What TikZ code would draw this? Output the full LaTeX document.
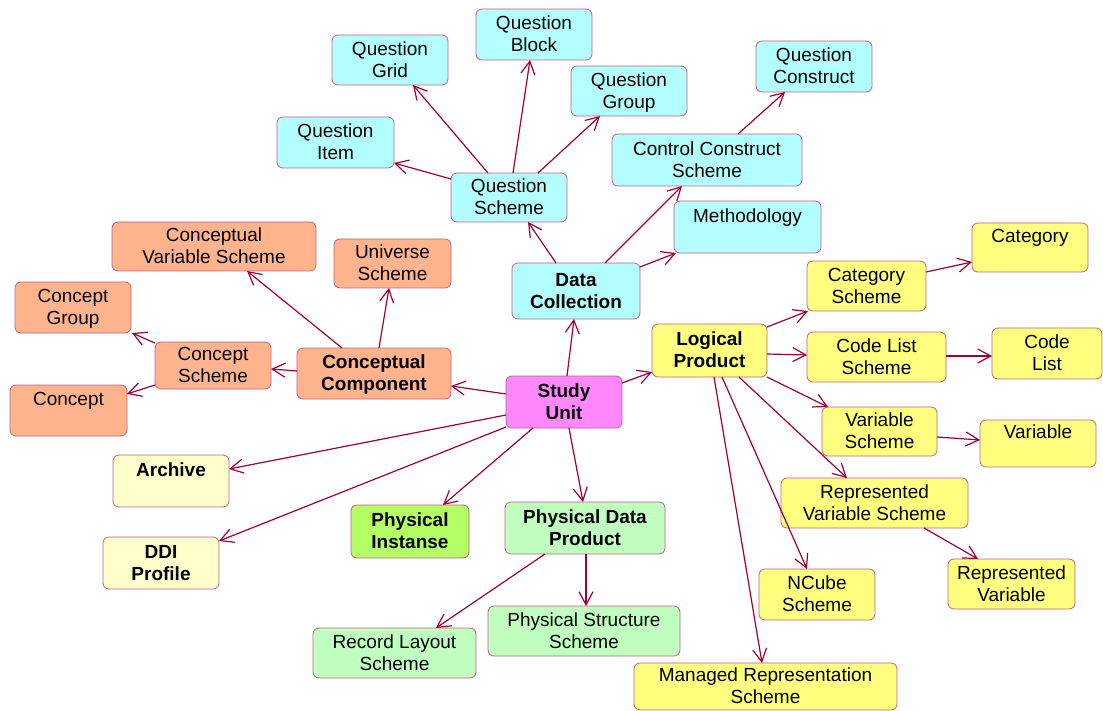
\documentclass[tikz,border=0pt]{standalone}
\usepackage{fontspec}
\setmainfont{Liberation Sans}
\usetikzlibrary{arrows.meta,calc}

\definecolor{cyanfill}{RGB}{179,255,255}
\definecolor{salmonfill}{RGB}{255,180,142}
\definecolor{yellowfill}{RGB}{255,255,128}
\definecolor{pinkfill}{RGB}{255,136,255}
\definecolor{greenfill}{RGB}{192,255,192}
\definecolor{limefill}{RGB}{180,255,102}
\definecolor{paleyellowfill}{RGB}{255,255,204}
\definecolor{boxline}{RGB}{196,96,128}
\definecolor{linkline}{RGB}{158,0,60}

% two-line label, lowered a little inside a box of fixed height and depth
\newcommand{\twolines}[1]{%
  \raisebox{-2pt}[15.4pt][28.6pt]{\begin{tabular}[t]{@{}c@{}}#1\end{tabular}}}

% box given by its corners (x1,y1)-(x2,y2), y measured downwards
\newcommand{\ddibox}[7]{%
  \node[box,#6,minimum width={(#4-#2)*1pt},minimum height={(#5-#3)*1pt}]
    (#1) at ({(#2+#4)/2},{(#3+#5)/2}) {\twolines{#7}};}

\begin{document}
\begin{tikzpicture}[x=1pt,y=-1pt,
  box/.style={draw=boxline,line width=0.8pt,rounded corners=6pt,
    inner sep=0pt,outer sep=0pt,
    font=\fontsize{19}{22}\selectfont\renewcommand{\arraystretch}{1}},
  main/.style={font=\fontsize{19}{22}\selectfont\bfseries},
  cyanbox/.style={fill=cyanfill},
  salmonbox/.style={fill=salmonfill},
  yellowbox/.style={fill=yellowfill},
  greenbox/.style={fill=greenfill},
  link/.style={draw=linkline,line width=1.2pt,
    -{Straight Barb[length=13pt,width=14pt]}}]

\useasboundingbox (0,0) rectangle (1103,711);

% ---- Study Unit
\ddibox{su}{506}{376}{622}{428}{main,fill=pinkfill}{Study\\Unit}

% ---- Data Collection branch
\ddibox{dc}{512}{263}{640}{319}{main,cyanbox}{Data\\Collection}
\ddibox{qs}{451}{173}{567}{222}{cyanbox}{Question\\Scheme}
\ddibox{qi}{277}{117}{394}{168}{cyanbox}{Question\\Item}
\ddibox{qg}{332}{35}{448}{85}{cyanbox}{Question\\Grid}
\ddibox{qb}{476}{9}{592}{60}{cyanbox}{Question\\Block}
\ddibox{qgr}{571}{66}{687}{116}{cyanbox}{Question\\Group}
\ddibox{ccs}{612}{134}{802}{186}{cyanbox}{Control Construct\\Scheme}
\ddibox{qc}{756}{41}{872}{92}{cyanbox}{Question\\Construct}
\ddibox{me}{674}{201}{821}{253}{cyanbox}{Methodology\\\strut}

% ---- Conceptual Component branch
\ddibox{cc}{297}{348}{451}{399}{main,salmonbox}{Conceptual\\Component}
\ddibox{cvs}{112}{222}{316}{271}{salmonbox}{Conceptual\\Variable Scheme}
\ddibox{us}{334}{239}{451}{288}{salmonbox}{Universe\\Scheme}
\ddibox{cs}{155}{342}{271}{389}{salmonbox}{Concept\\Scheme}
\ddibox{cg}{15}{282}{131}{333}{salmonbox}{Concept\\Group}
\ddibox{co}{10}{385}{127}{436}{salmonbox}{Concept\\\strut}

% ---- Logical Product branch
\ddibox{lp}{652}{324}{767}{377}{main,yellowbox}{Logical\\Product}
\ddibox{cats}{807}{261}{926}{311}{yellowbox}{Category\\Scheme}
\ddibox{cat}{972}{223}{1088}{272}{yellowbox}{Category\\\strut}
\ddibox{cls}{807}{332}{946}{382}{yellowbox}{Code List\\Scheme}
\ddibox{cl}{992}{328}{1102}{379}{yellowbox}{Code\\List}
\ddibox{vs}{822}{407}{937}{456}{yellowbox}{Variable\\Scheme}
\ddibox{va}{980}{420}{1096}{467}{yellowbox}{Variable\\\strut}
\ddibox{rvs}{781}{478}{968}{528}{yellowbox}{Represented\\Variable Scheme}
\ddibox{rv}{948}{559}{1075}{609}{yellowbox}{Represented\\Variable}
\ddibox{nc}{759}{569}{875}{620}{yellowbox}{NCube\\Scheme}
\ddibox{mrs}{634}{663}{897}{710}{yellowbox}{Managed Representation\\Scheme}

% ---- Archive, profile and physical branch
\ddibox{ar}{113}{455}{229}{507}{main,fill=paleyellowfill}{Archive\\\strut}
\ddibox{ddi}{103}{537}{219}{589}{main,fill=paleyellowfill}{DDI\\Profile}
\ddibox{pi}{351}{505}{469}{558}{main,fill=limefill}{Physical\\Instanse}
\ddibox{pdp}{505}{502}{665}{554}{main,greenbox}{Physical Data\\Product}
\ddibox{rls}{313}{628}{476}{678}{greenbox}{Record Layout\\Scheme}
\ddibox{pss}{488}{606}{680}{656}{greenbox}{Physical Structure\\Scheme}

% ---- connectors
\draw[link] ($(su.north west)+(61,0)$) -- ($(dc.south west)+(62,0)$);
\draw[link] ($(su.north west)+(0,18)$) -- ($(cc.north east)+(0,38)$);
\draw[link] ($(su.north east)+(0,7)$) -- ($(lp.north west)+(0,48)$);
\draw[link] ($(su.north west)+(0,39)$) -- ($(ar.north east)+(0,14)$);
\draw[link] ($(su.north west)+(0,51)$) -- ($(ddi.north east)+(0,4)$);
\draw[link] ($(su.south west)+(27,0)$) -- ($(pi.north west)+(92,0)$);
\draw[link] ($(su.south west)+(63,0)$) -- ($(pdp.north west)+(78,0)$);

\draw[link] ($(dc.north west)+(44,0)$) -- ($(qs.south west)+(77,0)$);
\draw[link] ($(dc.north west)+(93,0)$) -- ($(ccs.south west)+(70,0)$);
\draw[link] ($(dc.north east)+(0,4)$) -- ($(me.south west)+(2,0)$);

\draw[link] ($(qs.north west)+(0,6)$) -- ($(qi.north east)+(0,46)$);
\draw[link] ($(qs.north west)+(37,0)$) -- ($(qg.south west)+(81,0)$);
\draw[link] ($(qs.north west)+(62,0)$) -- ($(qb.south west)+(54,0)$);
\draw[link] ($(qs.north west)+(87,0)$) -- ($(qgr.south west)+(29,0)$);
\draw[link] ($(ccs.north west)+(126,0)$) -- ($(qc.south west)+(29,0)$);

\draw[link] ($(cc.north west)+(45,0)$) -- ($(cvs.south west)+(135,0)$);
\draw[link] ($(cc.north west)+(82,0)$) -- ($(us.south west)+(55,0)$);
\draw[link] ($(cc.north west)+(0,23)$) -- ($(cs.north east)+(0,27)$);
\draw[link] ($(cs.north west)+(0,1)$) -- ($(cg.south east)+(1,0)$);
\draw[link] ($(cs.north west)+(0,43)$) -- ($(co.north east)+(0,9)$);

\draw[link] ($(lp.north east)+(0,3)$) -- ($(cats.south west)+(1,0)$);
\draw[link] ($(lp.north east)+(0,30)$) -- ($(cls.north west)+(0,23)$);
\draw[link] (lp.south east) -- ($(vs.north west)+(6,0)$);
\draw[link] ($(lp.south west)+(87,0)$) -- ($(rvs.north west)+(66,0)$);
\draw[link] ($(lp.south west)+(70,0)$) -- ($(nc.north west)+(48,0)$);
\draw[link] ($(lp.south west)+(62,0)$) -- ($(mrs.north west)+(128,0)$);

\draw[link] ($(cats.north east)+(0,11)$) -- ($(cat.north west)+(0,39)$);
\draw[link] ($(cls.north east)+(0,24)$) -- ($(cl.north west)+(0,28)$);
\draw[link] ($(vs.north east)+(0,30)$) -- ($(va.north west)+(0,20)$);
\draw[link] ($(rvs.south west)+(143,0)$) -- ($(rv.north west)+(30,0)$);

\draw[link] ($(pdp.south west)+(40,0)$) -- ($(rls.north west)+(123,0)$);
\draw[link] ($(pdp.south west)+(81,0)$) -- ($(pss.north west)+(98,0)$);
\end{tikzpicture}
\end{document}
